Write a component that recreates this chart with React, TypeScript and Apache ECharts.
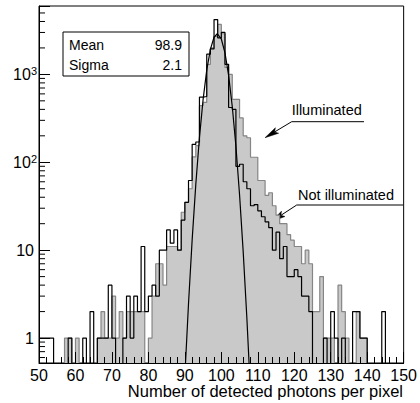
import React, { useEffect, useRef } from "react";
import * as echarts from "echarts";

// ---- data ----
const BIN_START = 50; // lower edge of first bin
const BIN_WIDTH = 1;

// Not illuminated (black outline), bins 50..149
const NOT_ILLUMINATED = [
  1, 1, 1, 1, 0, 0, 0, 0, 1, 0,
  0, 0, 1, 0, 2, 0, 1, 1, 1, 4,
  1, 0, 0, 1, 3, 1, 3, 2, 11, 2,
  3, 4, 3, 10, 10, 17, 12, 17, 10, 22,
  35, 62, 160, 170, 550, 560, 1700, 1950, 4200, 2600,
  3000, 1300, 420, 400, 90, 95, 60, 50, 32, 33,
  28, 24, 21, 18, 10, 16, 8, 11, 5, 5,
  6, 5, 3, 3, 2, 0, 0, 0, 1, 0,
  2, 1, 0, 1, 0, 0, 2, 2, 1, 1,
  0, 0, 0, 0, 2, 0, 0, 0, 0, 0,
];

// Illuminated (grey filled), bins 50..149
const ILLUMINATED = [
  0, 0, 0, 0, 0, 0, 0, 1, 1, 0,
  1, 0, 0, 0, 0, 0, 1, 2, 1, 1,
  3, 1, 2, 1, 2, 2, 2, 2, 2, 0,
  1, 3, 7, 7, 4, 11, 11, 11, 10, 27,
  35, 50, 115, 155, 440, 480, 1300, 2000, 2700, 3700,
  2900, 1200, 1000, 520, 520, 320, 200, 190, 114, 114,
  62, 62, 42, 45, 32, 25, 20, 20, 15, 13,
  11, 11, 7, 10, 7, 2, 2, 5, 1, 1,
  1, 0, 4, 2, 1, 0, 0, 2, 1, 1,
  0, 0, 0, 0, 0, 0, 0, 0, 0, 0,
];

// Gaussian fit curve (Mean 98.9, Sigma 2.1)
const FIT_X = [90, 91, 92, 93, 94, 95, 96, 97, 98, 98.9, 99, 100, 101, 102, 103, 104, 105, 106, 107, 108];
const FIT_Y = [0.37, 2.45, 13.1, 56, 191, 517, 1118, 1926, 2646, 2900, 2897, 2528, 1759, 976, 431, 152, 42.7, 9.56, 1.7, 0.24];

const STAT_NAMES = ["Mean", "Sigma"];
const STAT_VALUES = ["98.9", "2.1"];

const X_MIN = 50;
const X_MAX = 150;
const X_INTERVAL = 10;
const Y_MIN = 0.52;
const Y_MAX = 6000;
const EMPTY_BIN_FLOOR = 0.1; // empty bins drop below the frame (clipped)

const X_TITLE = "Number of detected photons per pixel";
const LABEL_ILLUM = "Illuminated";
const LABEL_NOT = "Not illuminated";

const FONT = "'Liberation Sans', Arial, Helvetica, sans-serif";

function stepPoints(counts: number[]) {
  const pts: number[][] = [];
  counts.forEach((c, i) => {
    const lo = BIN_START + i * BIN_WIDTH;
    const v = c > 0 ? c : EMPTY_BIN_FLOOR;
    pts.push([lo, v], [lo + BIN_WIDTH, v]);
  });
  return pts;
}

function minorLogTicks(): number[] {
  const out: number[] = [];
  for (let e = -1; e <= 3; e++) {
    for (let m = 2; m <= 9; m++) {
      const v = m * Math.pow(10, e);
      if (v > Y_MIN && v < Y_MAX) out.push(v);
    }
  }
  return out;
}

function arrowElems(tail: number[], tip: number[], len = 14, half = 3.2) {
  const dx = tip[0] - tail[0];
  const dy = tip[1] - tail[1];
  const L = Math.hypot(dx, dy);
  const ux = dx / L;
  const uy = dy / L;
  const bx = tip[0] - ux * len;
  const by = tip[1] - uy * len;
  const px = -uy * half;
  const py = ux * half;
  const nx = tip[0] - ux * len * 0.8;
  const ny = tip[1] - uy * len * 0.8;
  return [
    {
      type: "line",
      shape: { x1: tail[0], y1: tail[1], x2: nx, y2: ny },
      style: { stroke: "#000", lineWidth: 1 },
    },
    {
      type: "polygon",
      shape: { points: [tip, [bx + px, by + py], [nx, ny], [bx - px, by - py]] },
      style: { fill: "#000", stroke: "#000", lineWidth: 0.5 },
    },
  ];
}

export default function App() {
  const ref = useRef<HTMLDivElement>(null);

  useEffect(() => {
    if (!ref.current) return;
    const chart = echarts.init(ref.current, undefined, { renderer: "svg" });

    const illumTail = [291.7, 121.7];
    const illumTip = [265, 137.7];
    const notTail = [296.7, 205];
    const notTip = [271.5, 221.5];

    const statsGraphic: any[] = [
      {
        type: "rect",
        shape: { x: 63, y: 32, width: 126, height: 44 },
        style: { fill: "#fff", stroke: "#000", lineWidth: 1 },
      },
    ];
    STAT_NAMES.forEach((n, i) => {
      const y = 44.5 + i * 20;
      statsGraphic.push({
        type: "text",
        x: 69,
        y,
        style: { text: n, font: `14px ${FONT}`, fill: "#000", textAlign: "left", textVerticalAlign: "middle" },
      });
      statsGraphic.push({
        type: "text",
        x: 182,
        y,
        style: { text: STAT_VALUES[i], font: `14px ${FONT}`, fill: "#000", textAlign: "right", textVerticalAlign: "middle" },
      });
    });

    const option: any = {
      animation: false,
      backgroundColor: "#fff",
      grid: {
        left: 39,
        right: 15,
        top: 6,
        bottom: 40,
        show: true,
        borderColor: "#000",
        borderWidth: 1,
        backgroundColor: "transparent",
      },
      xAxis: {
        type: "value",
        min: X_MIN,
        max: X_MAX,
        interval: X_INTERVAL,
        z: 10,
        axisLine: { show: true, onZero: false, lineStyle: { color: "#000", width: 1 } },
        axisTick: { show: true, inside: true, length: 11, lineStyle: { color: "#000", width: 1 } },
        minorTick: { show: true, splitNumber: 5, length: 6, lineStyle: { color: "#000", width: 1 } },
        splitLine: { show: false },
        axisLabel: { margin: 4, fontSize: 16, lineHeight: 16, color: "#000", fontFamily: FONT },
      },
      yAxis: {
        type: "log",
        logBase: 10,
        min: Y_MIN,
        max: Y_MAX,
        splitNumber: 4,
        z: 10,
        axisLine: { show: true, onZero: false, lineStyle: { color: "#000", width: 1 } },
        axisTick: { show: true, inside: true, length: 11, lineStyle: { color: "#000", width: 1 } },
        splitLine: { show: false },
        axisLabel: {
          margin: 2,
          fontSize: 16,
          color: "#000",
          fontFamily: FONT,
          formatter: (v: number) => {
            const lg = Math.log10(v);
            const e = Math.round(lg);
            if (Math.abs(lg - e) > 1e-6 || e < 0) return "";
            if (e === 0) return "{p|1}";
            if (e === 1) return "{p|10}";
            return `{b|10}{sup|${e}}`;
          },
          rich: {
            p: { fontSize: 16, fontFamily: FONT, color: "#000", padding: [0, 3, 0, 0] },
            b: { fontSize: 16, fontFamily: FONT, color: "#000", verticalAlign: "bottom" },
            sup: { fontSize: 11, fontFamily: FONT, color: "#000", verticalAlign: "bottom", padding: [0, 0, 6, 0] },
          },
        },
      },
      series: [
        {
          name: LABEL_ILLUM,
          type: "line",
          data: stepPoints(ILLUMINATED),
          symbol: "none",
          showSymbol: false,
          clip: true,
          lineStyle: { color: "#858585", width: 1.2 },
          areaStyle: { color: "#c9c9c9", opacity: 1 },
          z: 2,
          silent: true,
        },
        {
          name: LABEL_NOT,
          type: "line",
          data: stepPoints(NOT_ILLUMINATED),
          symbol: "none",
          showSymbol: false,
          clip: true,
          lineStyle: { color: "#000", width: 1.2 },
          z: 3,
          silent: true,
        },
        {
          name: "Fit",
          type: "line",
          data: FIT_X.map((x, i) => [x, FIT_Y[i]]),
          symbol: "none",
          showSymbol: false,
          clip: true,
          smooth: false,
          lineStyle: { color: "#000", width: 1.2 },
          z: 4,
          silent: true,
        },
        {
          name: "yMinorTicks",
          type: "custom",
          coordinateSystem: "cartesian2d",
          data: minorLogTicks().map((v) => [X_MIN, v]),
          renderItem: (_p: any, api: any) => {
            const pt = api.coord([api.value(0), api.value(1)]);
            return {
              type: "line",
              shape: { x1: pt[0], y1: pt[1], x2: pt[0] + 6, y2: pt[1] },
              style: { stroke: "#000", lineWidth: 1 },
            };
          },
          z: 10,
          silent: true,
        },
      ],
      graphic: [
        ...statsGraphic,
        {
          type: "text",
          x: 326.7,
          y: 110,
          style: { text: LABEL_ILLUM, font: `14.5px ${FONT}`, fill: "#000", textAlign: "center", textVerticalAlign: "middle" },
        },
        {
          type: "line",
          shape: { x1: illumTail[0], y1: illumTail[1], x2: 364, y2: illumTail[1] },
          style: { stroke: "#000", lineWidth: 1 },
        },
        ...arrowElems(illumTail, illumTip),
        {
          type: "text",
          x: 346,
          y: 195,
          style: { text: LABEL_NOT, font: `14.5px ${FONT}`, fill: "#000", textAlign: "center", textVerticalAlign: "middle" },
        },
        {
          type: "line",
          shape: { x1: notTail[0], y1: notTail[1], x2: 403, y2: notTail[1] },
          style: { stroke: "#000", lineWidth: 1 },
        },
        ...arrowElems(notTail, notTip),
        {
          type: "text",
          x: 403,
          y: 391,
          style: { text: X_TITLE, font: `16.5px ${FONT}`, fill: "#000", textAlign: "right", textVerticalAlign: "middle" },
        },
      ],
    };

    chart.setOption(option);
    return () => chart.dispose();
  }, []);

  return (
    <div
      ref={ref}
      style={{ position: "fixed", left: 0, top: 0, width: 420, height: 403, background: "#fff" }}
    />
  );
}
